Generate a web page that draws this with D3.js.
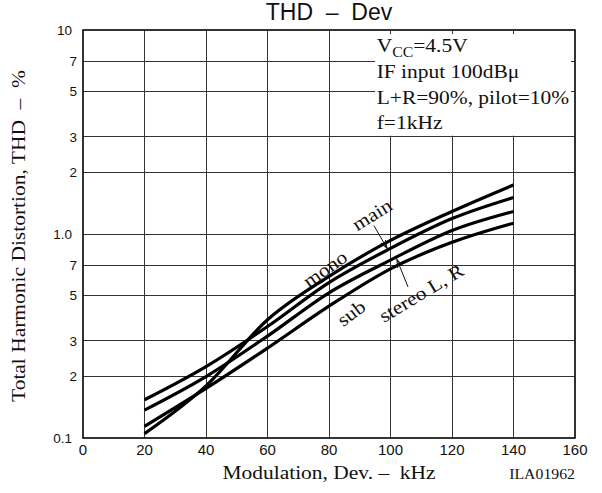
<!DOCTYPE html>
<html>
<head>
<meta charset="utf-8">
<script src="https://cdn.jsdelivr.net/npm/d3@7"></script>
<style>
  html, body { margin: 0; padding: 0; background: #fff; }
  svg { display: block; }
  text { white-space: pre; }
</style>
</head>
<body>
<script>
// ---------- data ----------
const modulation = [20, 40, 60, 80, 100, 120, 140];          // kHz
const thdMono    = [0.105, 0.18, 0.38, 0.62, 0.93, 1.29, 1.74];
const thdMain    = [0.154, 0.224, 0.352, 0.578, 0.85, 1.19, 1.51];
const thdStereo  = [0.137, 0.20, 0.316, 0.515, 0.745, 1.04, 1.29];
const thdSub     = [0.114, 0.175, 0.276, 0.443, 0.675, 0.91, 1.13];

const xTicks = [0, 20, 40, 60, 80, 100, 120, 140, 160];
const yTicks = [0.1, 0.2, 0.3, 0.5, 0.7, 1, 2, 3, 5, 7, 10];
const yTickLabels = ["0.1", "2", "3", "5", "7", "1.0", "2", "3", "5", "7", "10"];

const titleText = "THD  \u2013  Dev";
const xTitle = "Modulation, Dev. \u2013  kHz";
const yTitle = "Total Harmonic Distortion, THD  \u2013  %";
const figId = "ILA01962";
const condLines = ["IF input 100dB\u03bc", "L+R=90%, pilot=10%", "f=1kHz"];

// curve labels: [text, x(kHz), value, angle]
const curveLabels = [
  ["mono", 78.7, 0.675, -35],
  ["main", 94.0, 1.245, -32],
  ["stereo L, R", 110.0, 0.514, -31],
  ["sub", 87.2, 0.41, -37]
];
// arrows: [x0, v0, x1, v1]
const arrows = [
  [94.6, 1.10, 98.9, 0.85],
  [105.7, 0.55, 102.1, 0.75]
];

// ---------- layout ----------
const W = 602, H = 493;
const L = 83, R = 575, T = 30, B = 438;
const STRETCH = 1.13;

const svg = d3.select("body").append("svg").attr("width", W).attr("height", H);

const x = d3.scaleLinear().domain([0, 160]).range([L, R]);
const y = d3.scaleLog().domain([0.1, 10]).range([B, T]);

const serif = "'Liberation Serif', 'Times New Roman', serif";
const sans = "'Liberation Sans', Arial, sans-serif";

function stext(px, py, str, size, rot, anchor, baseline) {
  const t = svg.append("text")
    .attr("transform", `translate(${px},${py}) rotate(${rot || 0}) scale(${STRETCH},1)`)
    .attr("font-family", serif)
    .attr("font-size", size)
    .attr("fill", "#111")
    .attr("text-anchor", anchor || "start")
    .text(str);
  if (baseline) t.attr("dominant-baseline", baseline);
  return t;
}

// ---------- grid ----------
const grid = svg.append("g").attr("stroke", "#333").attr("stroke-width", 1).attr("shape-rendering", "crispEdges");
grid.selectAll("line.v").data(xTicks.slice(1, -1)).join("line")
  .attr("x1", d => x(d)).attr("x2", d => x(d))
  .attr("y1", T).attr("y2", B);
grid.selectAll("line.h").data(yTicks.slice(1, -1)).join("line")
  .attr("x1", L).attr("x2", R)
  .attr("y1", d => y(d)).attr("y2", d => y(d));

// white box for the conditions text
svg.append("rect")
  .attr("x", x(95)).attr("y", T)
  .attr("width", R - x(95)).attr("height", y(3) - T - 1)
  .attr("fill", "#fff");

// small inner ticks on top and right border inside the box
const stubs = svg.append("g").attr("stroke", "#333").attr("stroke-width", 1).attr("shape-rendering", "crispEdges");
stubs.selectAll("line.t").data([100, 120, 140]).join("line")
  .attr("x1", d => x(d)).attr("x2", d => x(d)).attr("y1", T).attr("y2", T + 4);
stubs.selectAll("line.r").data([5, 7]).join("line")
  .attr("x1", R - 4).attr("x2", R).attr("y1", d => y(d)).attr("y2", d => y(d));

// frame
svg.append("rect")
  .attr("x", L).attr("y", T).attr("width", R - L).attr("height", B - T)
  .attr("fill", "none").attr("stroke", "#000").attr("stroke-width", 1.6);

// ---------- tick labels ----------
svg.append("g").selectAll("text").data(yTicks).join("text")
  .attr("x", (d, i) => yTickLabels[i].length === 1 ? 77 : 72)
  .attr("y", d => y(d))
  .attr("dy", "0.36em")
  .attr("text-anchor", "end")
  .attr("font-family", sans).attr("font-size", 13.5).attr("fill", "#111")
  .text((d, i) => yTickLabels[i]);

svg.append("g").selectAll("text").data(xTicks).join("text")
  .attr("x", d => x(d))
  .attr("y", B + 17)
  .attr("text-anchor", "middle")
  .attr("font-family", sans).attr("font-size", 15).attr("fill", "#111")
  .text(d => d);

// ---------- titles ----------
svg.append("text")
  .attr("x", (L + R) / 2).attr("y", 20)
  .attr("text-anchor", "middle")
  .attr("font-family", sans).attr("font-size", 23).attr("fill", "#111")
  .text(titleText);

stext((L + R) / 2, 479, xTitle, 19, 0, "middle");
stext(25, 236, yTitle, 19, -90, "middle");
svg.append("text")
  .attr("transform", `translate(${R},479) scale(${STRETCH},1)`)
  .attr("text-anchor", "end")
  .attr("font-family", serif).attr("font-size", 14).attr("fill", "#111")
  .text(figId);

// ---------- conditions ----------
const cx = x(95.5);
const vcc = svg.append("text")
  .attr("transform", `translate(${cx},52) scale(${STRETCH},1)`)
  .attr("font-family", serif).attr("font-size", 19).attr("fill", "#111");
vcc.append("tspan").text("V");
vcc.append("tspan").attr("font-size", 14).attr("dy", 5).text("CC");
vcc.append("tspan").attr("dy", -5).text("=4.5V");
condLines.forEach((s, i) => stext(cx, 78 + i * 25.5, s, 19, 0, "start"));

// ---------- curves ----------
const line = d3.line().x(d => x(d[0])).y(d => y(d[1])).curve(d3.curveMonotoneX);
[thdMono, thdMain, thdStereo, thdSub].forEach(series => {
  svg.append("path")
    .datum(modulation.map((m, i) => [m, series[i]]))
    .attr("d", line)
    .attr("fill", "none").attr("stroke", "#000").attr("stroke-width", 3.2);
});

// ---------- curve labels ----------
curveLabels.forEach(([s, m, v, a]) => {
  stext(x(m), y(v), s, 19, a, "middle", "central");
});

// arrows
const defs = svg.append("defs");
defs.append("marker")
  .attr("id", "arr").attr("viewBox", "-10 -5 12 10")
  .attr("refX", 0).attr("refY", 0)
  .attr("markerWidth", 12).attr("markerHeight", 10)
  .attr("markerUnits", "userSpaceOnUse")
  .attr("orient", "auto")
  .append("path").attr("d", "M-8,-2.6 L0,0 L-8,2.6")
  .attr("fill", "none").attr("stroke", "#111").attr("stroke-width", 1);
arrows.forEach(([m0, v0, m1, v1]) => {
  svg.append("line")
    .attr("x1", x(m0)).attr("y1", y(v0)).attr("x2", x(m1)).attr("y2", y(v1))
    .attr("stroke", "#111").attr("stroke-width", 1)
    .attr("marker-end", "url(#arr)");
});
</script>
</body>
</html>
